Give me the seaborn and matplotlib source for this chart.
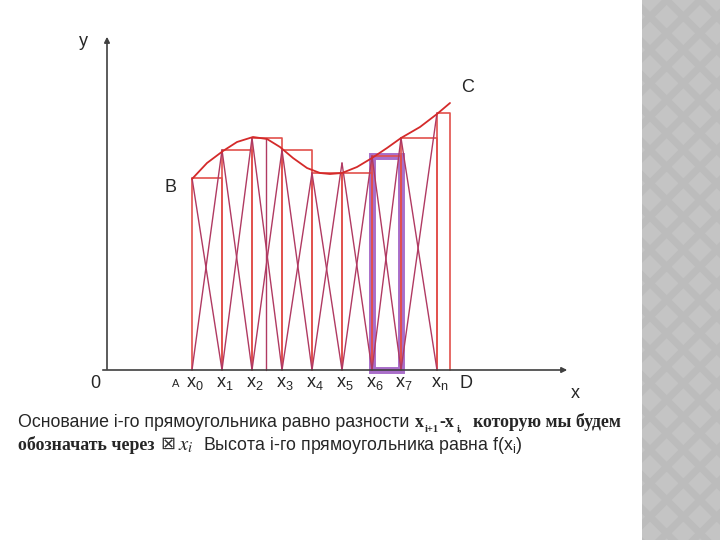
import numpy as np
import pandas as pd
import seaborn as sns
import matplotlib.pyplot as plt
from matplotlib.patches import Rectangle

# points of division x0..x7, xn and the end point D (distance from the y axis)
node_x = [85, 115, 145, 175, 205, 235, 265, 294, 330, 343]
node_f = [192, 220, 232, 220, 197, 197, 214, 232, 257, 267]
diag_top = [192, 220, 232, 220, 197, 207, 214, 232, 257, 267]
node_labels = ['x$_0$', 'x$_1$', 'x$_2$', 'x$_3$', 'x$_4$', 'x$_5$', 'x$_6$', 'x$_7$',
               'x$_\\mathrm{n}$']
extra_x = [159]
extra_h = [232]
marked = 6  # the i-th rectangle shown in purple

# the curve y = f(x)
curve_x = [85, 100, 116, 130, 146, 160, 173, 186, 200, 213, 223, 235, 250, 265, 280, 294, 313, 330, 343]
curve_y = [191, 207, 219, 228, 233, 231, 223, 212, 202, 197, 196, 197, 203, 212, 222, 232, 243, 256, 267]

sns.set_theme(style='white')
plt.rcParams['font.family'] = ['Liberation Sans', 'DejaVu Sans']
plt.rcParams['mathtext.fontset'] = 'custom'
plt.rcParams['mathtext.rm'] = 'Liberation Sans'
plt.rcParams['mathtext.it'] = 'Liberation Sans:italic'
plt.rcParams['hatch.linewidth'] = 5

fig = plt.figure(figsize=(7.2, 5.4), dpi=100)
ax = fig.add_axes([0, 0, 1, 1])
ax.set_xlim(-107, 613)
ax.set_ylim(-170, 370)
ax.axis('off')

# grey side panel of the slide
fig.patches.append(Rectangle((642 / 720, 0), 78 / 720, 1, transform=fig.transFigure,
                             facecolor='#c4c4c4', edgecolor='#bcbcbc', hatch='x', lw=0))

red = '#e2504c'
crim = '#b03a62'

# rectangles
for i in range(len(node_x) - 1):
    x0, x1, h = node_x[i], node_x[i + 1], node_f[i]
    ax.plot([x0, x0, x1, x1], [0, h, h, 0], color=red, lw=1.2)
for x, h in zip(extra_x, extra_h):
    ax.plot([x, x], [0, h], color=crim, lw=1)

# crosses inside the rectangles
for i in range(len(node_x) - 2):
    x0, x1 = node_x[i], node_x[i + 1]
    ax.plot([x0, x1], [0, diag_top[i + 1]], color=crim, lw=1)
    ax.plot([x0, x1], [diag_top[i], 0], color=crim, lw=1)

# highlighted rectangle
ax.add_patch(Rectangle((node_x[marked], 0), node_x[marked + 1] - node_x[marked],
                       node_f[marked], fill=False, edgecolor='#9a55c0', lw=5, alpha=0.85))

df = pd.DataFrame({'x': curve_x, 'y': curve_y})
sns.lineplot(data=df, x='x', y='y', ax=ax, color='#d42a2a', lw=1.3)

# axes with arrows
arr = dict(arrowstyle='-|>', color='#404040', lw=1.2, mutation_scale=8)
ax.annotate('', xy=(463, 0), xytext=(-7, 0), arrowprops=arr)
ax.annotate('', xy=(0, 336), xytext=(0, -2), arrowprops=arr)

fs = 13
ax.text(-24, 328, 'y', fontsize=fs, ha='center', va='center')
ax.text(468, -24, 'x', fontsize=fs, ha='center', va='center')
ax.text(-12, -13, '0', fontsize=fs, ha='center', va='center')
ax.text(63, 183, 'B', fontsize=fs, ha='center', va='center')
ax.text(361, 282, 'C', fontsize=fs, ha='center', va='center')
ax.text(359, -13, 'D', fontsize=fs, ha='center', va='center')
ax.text(69, -14, 'A', fontsize=8, ha='center', va='center')
for x, lab in zip(node_x, node_labels):
    ax.text(x + 3, -13, lab, fontsize=fs, ha='center', va='center')

# caption (two lines, mixed fonts)
cap = 12.8
b1, b2 = -57, -80
serif = dict(family='Liberation Serif', weight='bold', va='baseline')
ax.text(-89, b1, 'Основание i-го прямоугольника равно разности', fontsize=cap, va='baseline')
ax.text(308, b1, 'x', fontsize=cap, **serif)
ax.text(318, b1 - 5, 'i+1', fontsize=7.5, **serif)
ax.text(332, b1, '-x', fontsize=cap, **serif)
ax.text(350, b1 - 5, 'i,', fontsize=7.5, **serif)
ax.text(366, b1, 'которую мы будем', fontsize=cap, **serif)
ax.text(-89, b2, 'обозначать через', fontsize=cap, **serif)
ax.text(53, b2 + 1, '⊠', fontsize=13, va='baseline', family='DejaVu Sans', color='#333333')
ax.text(71, b2, r'$x_i$', fontsize=15, va='baseline', math_fontfamily='stix')
ax.text(96, b2, 'Высота i-го прямоугольника равна f(x$_\\mathrm{i}$)', fontsize=cap,
        va='baseline')

fig.savefig('out.png', dpi=100)
